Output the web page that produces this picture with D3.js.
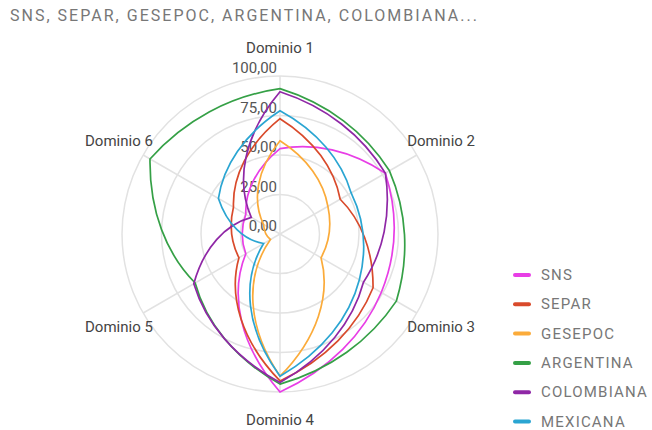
<!DOCTYPE html>
<html>
<head>
<meta charset="utf-8">
<script src="https://cdn.jsdelivr.net/npm/d3@7"></script>
<style>
  html, body { margin: 0; padding: 0; background: #fff; }
  svg { display: block; font-family: Roboto, "Noto Sans", sans-serif; }
</style>
</head>
<body>
<div id="canvas"></div>
<script>
// Ejes del radar
const dominios = ["Dominio 1", "Dominio 2", "Dominio 3", "Dominio 4", "Dominio 5", "Dominio 6"];
// Nombres de las series (orden de la leyenda)
const series = ["SNS", "SEPAR", "GESEPOC", "ARGENTINA", "COLOMBIANA", "MEXICANA"];
// Valores por dominio de cada serie
const sns = [54, 77, 74, 100, 25, 25];
const separ = [73, 44, 68, 93, 30, 34];
const gesepoc = [59, 35, 30, 90, 7, 12];
const argentina = [92, 80, 85, 95, 62, 95];
const colombiana = [90, 77, 61, 94, 63, 21];
const mexicana = [78, 52, 58, 90, 12, 45];
// Marcas del eje radial
const ticks = [0, 25, 50, 75, 100];
const titulo = "SNS, SEPAR, GESEPOC, ARGENTINA, COLOMBIANA...";

const valores = [sns, separ, gesepoc, argentina, colombiana, mexicana];

// Caracteristicas del canvas
const width = 652;
const height = 430;
const cx = 280, cy = 234, R = 158;

const svg = d3.select("#canvas").append("svg")
    .attr("width", width)
    .attr("height", height);

// Escalas
const r = d3.scaleLinear().domain([0, 100]).range([0, R]);
const angulo = d3.scaleLinear().domain([0, dominios.length]).range([0, 2 * Math.PI]);
const color = d3.scaleOrdinal()
    .domain(series)
    .range(["#e83ee6", "#d94a2b", "#fbab3a", "#35a046", "#8f27a6", "#2aa5d2"]);

// Formato con coma decimal
const es = d3.formatLocale({decimal: ",", thousands: ".", grouping: [3], currency: ["", "€"]});
const fmt = es.format(".2f");

// Curva: interpola en coordenadas polares entre vertices
function curvaPolar(context) {
    let pts;
    const xy = (a, rr) => [rr * Math.sin(a), -rr * Math.cos(a)];
    return {
        areaStart() {}, areaEnd() {},
        lineStart() { pts = []; },
        point(x, y) { pts.push({a: Math.atan2(x, -y), r: Math.hypot(x, y)}); },
        lineEnd() {
            const n = pts.length;
            const p0 = xy(pts[0].a, pts[0].r);
            context.moveTo(p0[0], p0[1]);
            for (let i = 0; i < n; i++) {
                const p = pts[i], q = pts[(i + 1) % n];
                let da = q.a - p.a;
                while (da <= -Math.PI) da += 2 * Math.PI;
                while (da > Math.PI) da -= 2 * Math.PI;
                const dr = q.r - p.r;
                const c1 = xy(p.a + da / 3, p.r + dr / 3);
                const c2 = xy(p.a + 2 * da / 3, p.r + 2 * dr / 3);
                const e = xy(q.a, q.r);
                context.bezierCurveTo(c1[0], c1[1], c2[0], c2[1], e[0], e[1]);
            }
            context.closePath();
        }
    };
}

// Titulo
svg.append("text")
    .attr("x", 10)
    .attr("y", 21)
    .attr("textLength", 467)
    .attr("lengthAdjust", "spacing")
    .style("font-size", "16px")
    .style("fill", "#777")
    .text(titulo);

const g = svg.append("g").attr("transform", `translate(${cx}, ${cy})`);

// Anillos de la rejilla
g.selectAll("circle.ring").data(ticks.filter(t => t > 0)).enter().append("circle")
    .attr("class", "ring")
    .attr("r", d => r(d))
    .attr("fill", "none")
    .attr("stroke", "#e2e2e2")
    .attr("stroke-width", 1.5);

// Radios de cada dominio
g.selectAll("line.spoke").data(dominios).enter().append("line")
    .attr("class", "spoke")
    .attr("x1", 0).attr("y1", 0)
    .attr("x2", (d, i) => r(100) * Math.sin(angulo(i)))
    .attr("y2", (d, i) => -r(100) * Math.cos(angulo(i)))
    .attr("stroke", "#e2e2e2")
    .attr("stroke-width", 1.5);

// Etiquetas del eje radial
g.selectAll("text.tick").data(ticks).enter().append("text")
    .attr("class", "tick")
    .attr("x", -3)
    .attr("y", d => -r(d) - 8)
    .attr("text-anchor", "end")
    .attr("dominant-baseline", "central")
    .style("font-size", "15px")
    .style("fill", "#555")
    .text(d => fmt(d));

// Nombres de los dominios
g.selectAll("text.dom").data(dominios).enter().append("text")
    .attr("class", "dom")
    .attr("x", (d, i) => (R + 28) * Math.sin(angulo(i)))
    .attr("y", (d, i) => -(R + 28) * Math.cos(angulo(i)))
    .attr("text-anchor", "middle")
    .attr("dominant-baseline", "central")
    .style("font-size", "15px")
    .style("fill", "#444")
    .text(d => d);

// Lineas de cada serie
const linea = d3.lineRadial()
    .angle((d, i) => angulo(i))
    .radius(d => r(d))
    .curve(curvaPolar);

g.selectAll("path.serie").data(valores).enter().append("path")
    .attr("class", "serie")
    .attr("d", d => linea(d))
    .attr("fill", "none")
    .attr("stroke", (d, i) => color(series[i]))
    .attr("stroke-width", 1.7);

// Leyenda
const leyenda = svg.append("g").attr("transform", "translate(515, 275)");
const filas = leyenda.selectAll("g").data(series).enter().append("g")
    .attr("transform", (d, i) => `translate(0, ${i * 29.3})`);

filas.append("line")
    .attr("x1", 0).attr("x2", 14)
    .attr("y1", 0).attr("y2", 0)
    .attr("stroke", d => color(d))
    .attr("stroke-width", 4)
    .attr("stroke-linecap", "round");

filas.append("text")
    .attr("x", 26)
    .attr("y", 0)
    .attr("dominant-baseline", "central")
    .style("font-size", "15px")
    .style("letter-spacing", "1.2px")
    .style("fill", "#777")
    .text(d => d);
</script>
</body>
</html>
